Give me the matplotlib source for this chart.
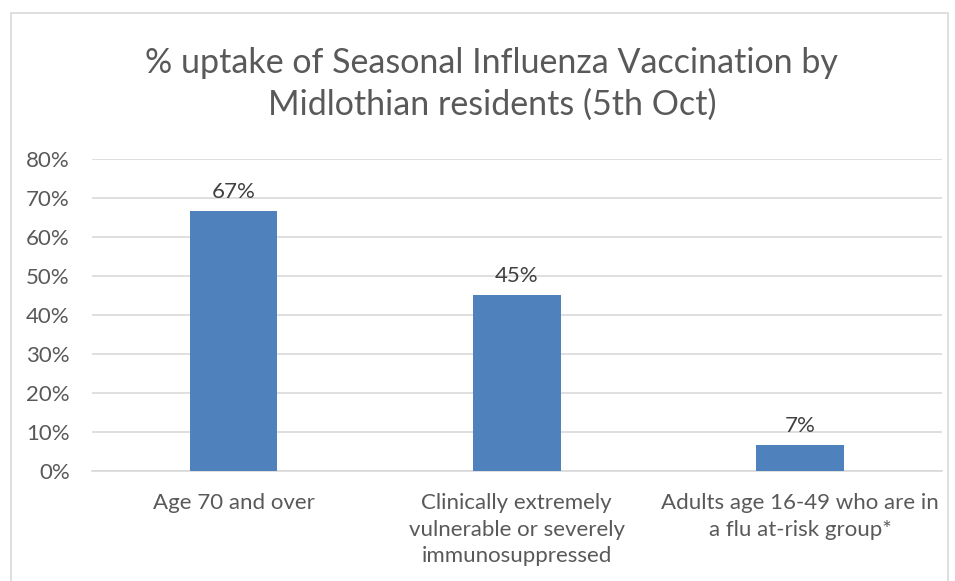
import matplotlib.pyplot as plt
from matplotlib.patches import Rectangle
from matplotlib.ticker import PercentFormatter

# data
categories = ["Age 70 and over",
              "Clinically extremely\nvulnerable or severely\nimmunosuppressed",
              "Adults age 16-49 who are in\na flu at-risk group*"]
uptake = [0.667, 0.452, 0.067]
labels = ["67%", "45%", "7%"]
yticks = [0, 0.1, 0.2, 0.3, 0.4, 0.5, 0.6, 0.7, 0.8]

plt.rcParams['font.family'] = ['Lato', 'DejaVu Sans']
text_col = "#595959"

fig = plt.figure(figsize=(9.55, 5.81), dpi=100)
ax = fig.add_axes([0.0963, 0.1893, 0.8897, 0.537])

# outer chart border like the excel chart area
fig.patches.append(Rectangle((11 / 955, -0.05), 937 / 955, 1.05 - 13 / 581,
                             transform=fig.transFigure, fill=False,
                             edgecolor="#D9D9D9", linewidth=1.2))

x = range(len(categories))
bars = ax.bar(x, uptake, width=0.31, color="#4F81BD", zorder=3)
for b, lab in zip(bars, labels):
    ax.text(b.get_x() + b.get_width() / 2, b.get_height() + 0.022, lab,
            ha="center", va="bottom", fontsize=16, color="#404040")

ax.set_xlim(-0.5, 2.5)
ax.set_ylim(0, 0.8)
ax.set_yticks(yticks)
ax.yaxis.set_major_formatter(PercentFormatter(1.0, decimals=0))
ax.set_xticks(list(x))
ax.set_xticklabels(categories, fontsize=16, color=text_col, linespacing=1.4)
ax.tick_params(axis="y", labelsize=16, labelcolor=text_col, length=0, pad=16)
ax.tick_params(axis="x", length=0, pad=16)
ax.grid(axis="y", color="#D9D9D9", linewidth=1.2, zorder=0)
for s in ["top", "right", "left"]:
    ax.spines[s].set_visible(False)
ax.spines["bottom"].set_color("#D9D9D9")
ax.spines["bottom"].set_linewidth(1.2)

fig.text(0.515, 0.855, "% uptake of Seasonal Influenza Vaccination by\nMidlothian residents (5th Oct)",
         ha="center", va="center", fontsize=24.5, color=text_col, linespacing=1.38)

fig.savefig("out.png", dpi=100)
